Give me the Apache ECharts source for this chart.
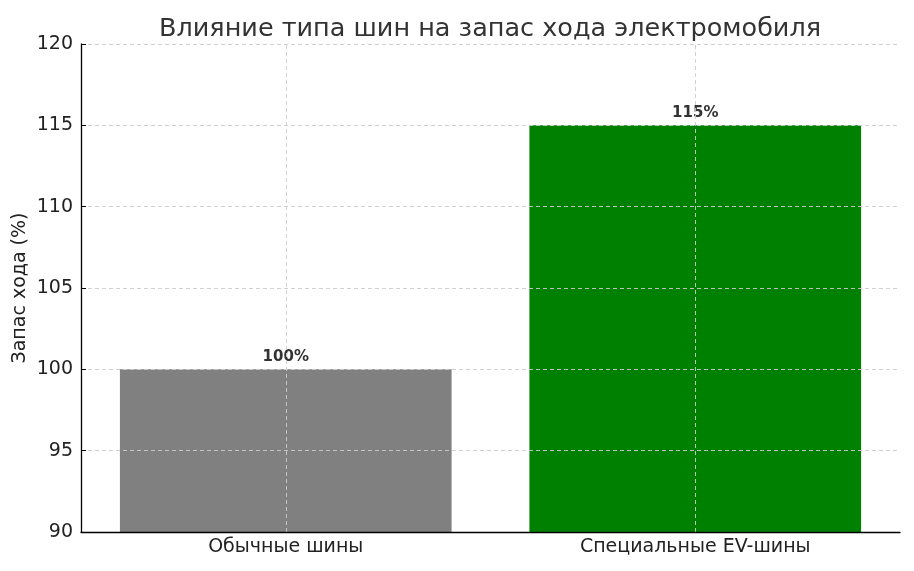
<!DOCTYPE html>
<html>
<head>
<meta charset="utf-8">
<title>Запас хода</title>
<script src="https://cdn.jsdelivr.net/npm/echarts@6/dist/echarts.min.js"></script>
<style>
  html, body { margin: 0; padding: 0; background: #fff; }
  #main { width: 914px; height: 571px; }
</style>
</head>
<body>
<div id="main"></div>
<script>
// данные
var categories = ['Обычные шины', 'Специальные EV-шины'];
var rangeValues = [100, 115];
var barColors = ['#808080', '#008000'];
var yTicks = [90, 95, 100, 105, 110, 115, 120];

var FONT = 'DejaVu Sans';

var chart = echarts.init(document.getElementById('main'), null, { renderer: 'canvas' });

// сетка поверх столбиков (как в matplotlib)
var gridLines = [];
categories.forEach(function (c) { gridLines.push({ xAxis: c }); });
yTicks.slice(1).forEach(function (v) { gridLines.push({ yAxis: v }); });

var option = {
    animation: false,
    backgroundColor: '#fff',
    title: {
        text: 'Влияние типа шин на запас хода электромобиля',
        left: 485, top: 11, textAlign: 'center',
        textStyle: { fontFamily: FONT, fontSize: 25.5, fontWeight: 'normal', color: '#333' }
    },
    grid: { left: 81, right: 14, top: 44, bottom: 39, containLabel: false, outerBoundsMode: 'none' },
    xAxis: {
        type: 'category',
        data: categories,
        z: 10,
        axisLine: { lineStyle: { color: '#000', width: 1.3 } },
        axisTick: { inside: true, alignWithLabel: true, length: 5, lineStyle: { color: '#000' } },
        axisLabel: { fontFamily: FONT, fontSize: 19, color: '#222', margin: 6 },
        splitLine: { show: false }
    },
    yAxis: {
        type: 'value',
        min: yTicks[0], max: yTicks[yTicks.length - 1], interval: 5,
        z: 10,
        name: 'Запас хода (%)',
        nameLocation: 'middle', nameGap: 51, nameRotate: 90,
        nameMoveOverlap: false,
        nameTextStyle: { fontFamily: FONT, fontSize: 19, color: '#222' },
        axisLine: { show: true, lineStyle: { color: '#000', width: 1.3 } },
        axisTick: { show: true, inside: true, length: 5, lineStyle: { color: '#000' } },
        axisLabel: { fontFamily: FONT, fontSize: 19, color: '#222', margin: 8 },
        splitLine: { show: false }
    },
    series: [{
        type: 'bar',
        barWidth: '81%',
        data: rangeValues.map(function (v, i) {
            return { value: v, itemStyle: { color: barColors[i] } };
        }),
        label: {
            show: true, position: 'top', distance: 5,
            formatter: '{c}%',
            fontFamily: FONT, fontSize: 15, fontWeight: 'bold', color: '#333'
        },
        markLine: {
            silent: true, symbol: 'none',
            label: { show: false },
            lineStyle: { type: [4, 3], color: '#cccccc', width: 1, opacity: 0.9 },
            data: gridLines
        }
    }]
};

chart.setOption(option);
</script>
</body>
</html>
